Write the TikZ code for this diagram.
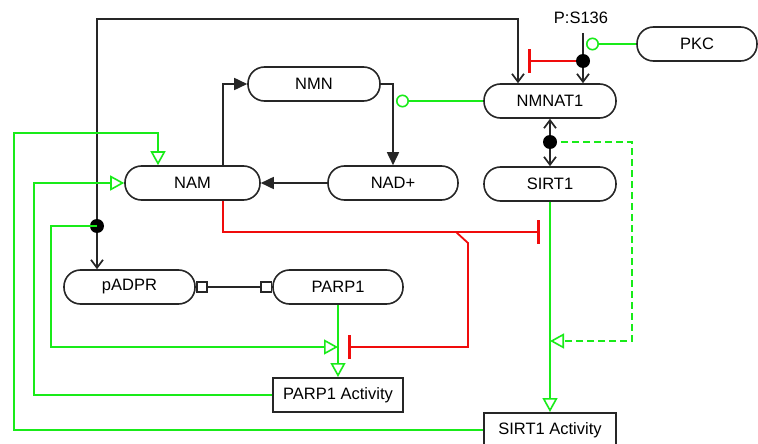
\documentclass[tikz,border=0pt]{standalone}
\usepackage{fontspec}
\setmainfont{Liberation Sans}
\usetikzlibrary{arrows.meta}
\definecolor{actgreen}{RGB}{25,235,25}
\definecolor{inhred}{RGB}{240,12,12}
\begin{document}
\begin{tikzpicture}[x=1pt,y=-1pt,
  species/.style={draw=black!85, line width=1.6pt, rounded corners=16.5pt,
    minimum width=132pt, minimum height=34pt, inner sep=0pt,
    font=\fontsize{16.5}{19}\selectfont},
  activity/.style={draw=black!85, line width=2pt, minimum width=131pt,
    minimum height=34pt, inner sep=0pt, font=\fontsize{16.5}{19}\selectfont},
  blk/.style={draw=black!85, line width=1.7pt},
  grn/.style={draw=actgreen, line width=1.6pt},
  inh/.style={draw=inhred, line width=1.8pt,
    -{Bar[width=24pt,line width=3pt]}},
  barb/.tip={Straight Barb[length=8pt,width=12pt]},
  solidtri/.tip={Triangle[length=13pt,width=12pt]},
  opentri/.tip={Triangle[open,length=14pt,width=15pt,fill=white]},
  modcirc/.tip={Circle[open,length=13pt,fill=white]},
  sq/.tip={Square[open,length=12pt,width=12pt,fill=white]},
  dot/.style={fill=black}
]
\useasboundingbox (0,0) rectangle (758,444);

% species
\node[species] (nmn)   at (314,84)   {NMN};
\node[species] (nmnat) at (550,101)  {NMNAT1};
\node[species, minimum width=120pt] (pkc) at (697,44) {PKC};
\node[species, minimum width=135pt] (nam) at (192.5,183) {NAM};
\node[species, minimum width=130pt] (nad) at (393,183) {NAD+};
\node[species] (sirt)  at (550,184)  {SIRT1};
\node[species, minimum width=131pt] (padpr) at (129.5,287) {pADPR};
\node[species, minimum width=130pt] (parp)  at (338,287)  {PARP1};
\node[activity, minimum width=130pt] (parpact) at (338,395) {PARP1 Activity};
\node[activity, minimum width=132pt] (sirtact) at (550,430) {SIRT1 Activity};
\node[font=\fontsize{16.5}{19}\selectfont] (site) at (581,18) {P:S136};

% routing points
\coordinate (topL) at (97,19);
\coordinate (topR) at (518,19);
\coordinate (dotA) at (97,226);
\coordinate (nx)   at (223,0);
\coordinate (ps)   at (583,33);
\coordinate (pdot) at (583,61);
\coordinate (sdot) at (550,142);
\coordinate (modA) at (396,0);
\coordinate (modB) at (586,0);
\coordinate (fbT)  at (158,133);

% NAM -> NMN -> NAD+ -> NAM cycle
\draw[blk,-solidtri] (nam.north -| nx) -- (nx |- nmn.west) -- (nmn.west);
\draw[blk,-solidtri] (nmn.east) -- (nad.north |- nmn.east) -- (nad.north);
\draw[blk,-solidtri] (nad.west) -- (nam.east);

% NMNAT1 / pADPR transport line
\draw[blk,barb-barb] (topL |- padpr.north) -- (topL) -- (topR) -- (topR |- nmnat.north);
\fill[dot] (dotA) circle (7pt);

% phosphorylation of NMNAT1
\draw[blk,-barb] (ps) -- (ps |- nmnat.north);
\draw[inh] (pdot) -- (528,61);
\fill[dot] (pdot) circle (7pt);
\draw[grn,-modcirc] (pkc.west) -- (pkc.west -| modB);

% NMNAT1 modulates NMN -> NAD+
\draw[grn,-modcirc] (nmnat.west) -- (nmnat.west -| modA);

% NMNAT1 <-> SIRT1
\draw[blk,barb-barb] (nmnat.south) -- (sirt.north);
\draw[grn,dash pattern=on 7pt off 4pt,-opentri] (sdot) -- (632,142) -- (632,341) -- (550,341);
\fill[dot] (sdot) circle (7pt);

% SIRT1 -> SIRT1 Activity
\draw[grn,-opentri] (sirt.south) -- (sirtact.north);

% pADPR -- PARP1
\draw[blk,sq-sq] (padpr.east) -- (parp.west);

% PARP1 -> PARP1 Activity
\draw[grn,-opentri] (parp.south) -- (parpact.north);
\draw[grn,-opentri] (dotA) -- (51,226) -- (51,347) -- (338,347);

% NAM inhibition
\draw[inh] (nam.south -| nx) -- (223,232) -- (540,232);
\draw[inh] (456,232) -- (468,243) -- (468,347) -- (348,347);

% feedback to NAM
\draw[grn,-opentri] (parpact.west) -- (34,395) -- (34,183) -- (nam.west);
\draw[grn,-opentri] (sirtact.west) -- (14,430) -- (14,133) -- (fbT) -- (fbT |- nam.north);
\end{tikzpicture}
\end{document}
